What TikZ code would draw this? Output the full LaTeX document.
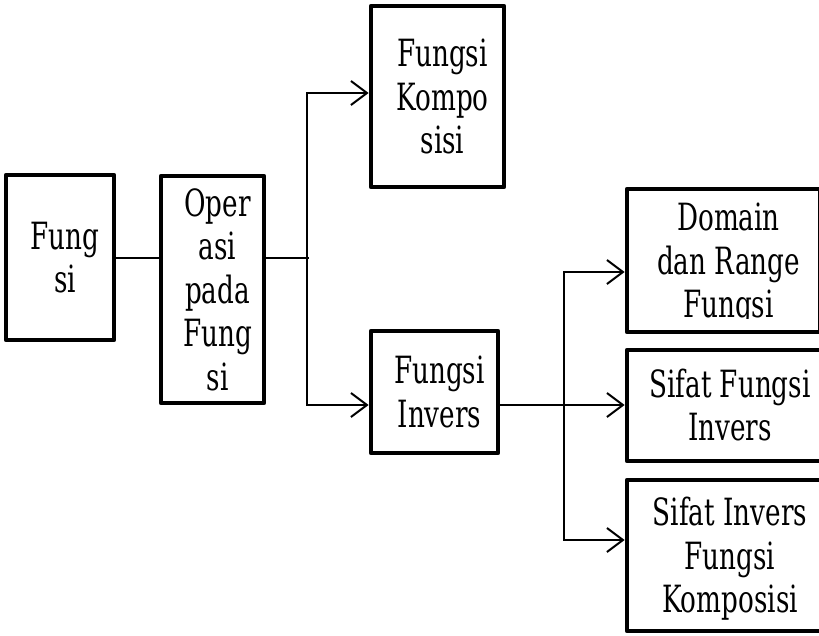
\documentclass[tikz,border=0pt]{standalone}
\usepackage{graphicx}
\usepackage{fontspec}
\setmainfont{DejaVu Serif}
\usetikzlibrary{arrows.meta}
\newcommand\boxtext[1]{\hspace*{10pt}\raisebox{-5pt}[\height][\depth]{\scalebox{0.70}[1]{\fontsize{37.5}{43.5}\selectfont\begin{tabular}{@{}c@{}}#1\end{tabular}}}}
\begin{document}
\begin{tikzpicture}[x=1pt,y=-1pt,
  box/.style={draw,line width=4.8pt,rectangle,inner sep=0pt,line join=round},
  conn/.style={line width=2pt},
  arr/.style={conn,-{Straight Barb[length=16pt,width=24pt]}}]
\path[use as bounding box] (0,0) rectangle (819,635);
\clip (0,0) rectangle (819,635);
\node[box,minimum width=108pt,minimum height=165pt] (a) at (60,257.5) {\boxtext{Fung\\si}};
\node[box,minimum width=103pt,minimum height=227pt] (b) at (212.5,289.5) {\boxtext{Oper\\asi\\pada\\Fung\\si}};
\node[box,minimum width=133pt,minimum height=181pt] (c) at (437.5,96.5) {\boxtext{Fungsi\\Kompo\\sisi}};
\node[box,minimum width=127pt,minimum height=122pt] (d) at (434.5,392) {\boxtext{Fungsi\\Invers}};
\node[box,minimum width=193pt,minimum height=143pt] (e) at (723.5,260.5) {};
\begin{scope}
\clip (620,192) rectangle (819,318);
\node (etext) at (e.center) {\boxtext{Domain\\dan Range\\Fungsi}};
\end{scope}
\node[box,minimum width=196pt,minimum height=111pt] (f) at (725,405.5) {\boxtext{Sifat Fungsi\\Invers}};
\node[box,minimum width=196pt,minimum height=151pt] (g) at (725,555.5) {\boxtext{Sifat Invers\\Fungsi\\Komposisi}};
\coordinate (top) at (307,93);
\coordinate (bot) at (307,405);
\coordinate (j1) at (309,258);
\coordinate (r1) at (564,272);
\coordinate (r3) at (564,540);
\draw[conn] (a.east) -- (a.east -| b.west);
\draw[conn] (b.east |- j1) -- (j1);
\draw[arr] (bot) -- (top) -- (top -| c.west);
\draw[arr] (top) -- (bot) -- (bot -| d.west);
\draw[arr] (d.east |- bot) -- (bot -| f.west);
\draw[arr] (r3) -- (r1) -- (r1 -| e.west);
\draw[arr] (r1) -- (r3) -- (r3 -| g.west);
\end{tikzpicture}
\end{document}
